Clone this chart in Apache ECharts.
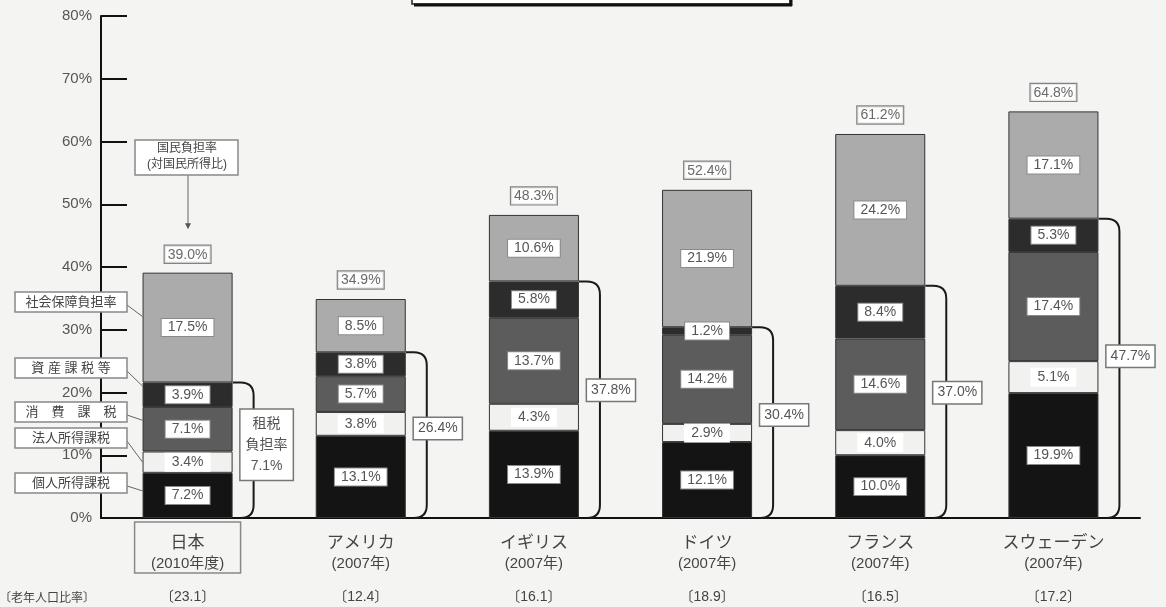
<!DOCTYPE html>
<html><head><meta charset="utf-8">
<script src="https://cdn.jsdelivr.net/npm/echarts@6/dist/echarts.min.js"></script>
<style>html,body{margin:0;padding:0;background:#f4f4f2}#c{width:1166px;height:607px}</style>
</head><body><div id="c"></div>
<script>
const countries = ['日本','アメリカ','イギリス','ドイツ','フランス','スウェーデン'];
const years = ['2010年度','2007年','2007年','2007年','2007年','2007年'];
const elderlyRatio = ['23.1','12.4','16.1','18.9','16.5','17.2'];
const personalIncomeTax = [7.2,13.1,13.9,12.1,10.0,19.9];
const corporateIncomeTax = [3.4,3.8,4.3,2.9,4.0,5.1];
const consumptionTax = [7.1,5.7,13.7,14.2,14.6,17.4];
const assetTax = [3.9,3.8,5.8,1.2,8.4,5.3];
const socialSecurity = [17.5,8.5,10.6,21.9,24.2,17.1];
const nationalBurden = [39.0,34.9,48.3,52.4,61.2,64.8];
const taxBurden = [7.1,26.4,37.8,30.4,37.0,47.7];
const seriesNames = ['個人所得課税','法人所得課税','消費課税','資産課税等','社会保障負担率'];

const FONT = "'Liberation Sans','Noto Sans CJK JP',sans-serif";
const taxSum = personalIncomeTax.map((v,i)=>+(v+corporateIncomeTax[i]+consumptionTax[i]+assetTax[i]).toFixed(1));

function segLabel(boxed){
  return {show:true, position:'inside', formatter:p=>p.value.toFixed(1)+'%',
    color:'#555', fontSize:14, fontFamily:FONT, backgroundColor:'#fff',
    borderColor: boxed?'#8a8a8a':'#fff', borderWidth:1, padding:[2,6,1,6]};
}
function bar(name, data, color, boxed){
  return {type:'bar', name, data, stack:'t', barWidth:'52%',
    itemStyle:{color, borderColor:'#333', borderWidth:1}, label:segLabel(boxed), z:2};
}

const option = {
  backgroundColor:'#f4f4f2',
  animation:false,
  grid:{left:101, right:26, top:16, bottom:89, containLabel:false},
  xAxis:[
    {type:'category', data:countries,
     axisLine:{lineStyle:{color:'#111', width:2}},
     axisTick:{inside:true, length:12, lineStyle:{color:'#111', width:2}},
     axisLabel:{margin:14, formatter:(v,i)=>`{n|${v}}\n{y|(${years[i]})}`,
       rich:{n:{fontSize:17, lineHeight:22, color:'#444', fontFamily:FONT},
             y:{fontSize:15, lineHeight:20, color:'#444', fontFamily:FONT}}}},
    {type:'category', data:elderlyRatio.map(v=>'〔'+v+'〕'), position:'bottom',
     axisLine:{show:false}, axisTick:{show:false},
     axisLabel:{margin:72, fontSize:14, color:'#444', fontFamily:FONT}}
  ],
  yAxis:{type:'value', min:0, max:80, interval:10,
    axisLine:{show:true, lineStyle:{color:'#111', width:2}},
    axisTick:{show:true, inside:true, length:26, lineStyle:{color:'#111', width:2}},
    splitLine:{show:false},
    axisLabel:{formatter:'{value}%', fontSize:15, color:'#555', margin:9, fontFamily:FONT}},
  series:[
    bar(seriesNames[0], personalIncomeTax, '#141414', true),
    bar(seriesNames[1], corporateIncomeTax, '#f1f1f0', false),
    bar(seriesNames[2], consumptionTax, '#5c5c5c', true),
    bar(seriesNames[3], assetTax, '#2c2c2c', true),
    bar(seriesNames[4], socialSecurity, '#ababab', true),
    {type:'scatter', data:nationalBurden.map((v,i)=>[i,v]), symbolSize:1,
     itemStyle:{color:'rgba(0,0,0,0)'}, z:5,
     label:{show:true, position:'top', distance:10, formatter:p=>p.value[1].toFixed(1)+'%',
       color:'#444', fontSize:14, fontFamily:FONT, backgroundColor:'#fff',
       borderColor:'#666', borderWidth:1.2, padding:[2,3,1,3]}},
    {type:'custom', data:taxBurden.map((r,i)=>[i, taxSum[i], r]), z:6,
     renderItem:(params, api)=>{
       const i=api.value(0), s=api.value(1), r=api.value(2);
       const top=api.coord([i,s]), bot=api.coord([i,0]);
       const cw=api.size([1,0])[0];
       const right=top[0]+cw*0.26;
       const lx=right+21, rr=13;
       const pd=`M${right} ${top[1]} L${lx-rr} ${top[1]} Q${lx} ${top[1]} ${lx} ${top[1]+rr} L${lx} ${bot[1]-rr} Q${lx} ${bot[1]} ${lx-rr} ${bot[1]}`;
       const ly=api.coord([i, s*0.54])[1];
       const txt = i===0 ? '租税\n負担率\n'+r.toFixed(1)+'%' : r.toFixed(1)+'%';
       return {type:'group', children:[
         {type:'path', shape:{pathData:pd}, style:{fill:null, stroke:'#1a1a1a', lineWidth:2}},
         {type:'text', x: lx+(i===0?13:11), y: ly, style:{text:txt, align:'center', verticalAlign:'middle',
           fill:'#555', font:'14px '+FONT, lineHeight: i===0?21:16, backgroundColor:'#fff',
           borderColor:'#777', borderWidth:1.5, padding: i===0?[4,5,3,5]:[3,4,2,4]}}
       ]};
     }}
  ]
};

const chart = echarts.init(document.getElementById('c'));
chart.setOption(option);

// annotation graphics for Japan
const p0 = chart.convertToPixel({xAxisIndex:0, yAxisIndex:0}, [0,0]);
const p1 = chart.convertToPixel({xAxisIndex:0, yAxisIndex:0}, [1,0]);
const cw = p1[0]-p0[0];
const barLeft = p0[0]-cw*0.26;
const segs = [personalIncomeTax, corporateIncomeTax, consumptionTax, assetTax, socialSecurity];
const fracs = [0.6, 0.5, 0.7, 0.85, 0.6];
const annText = ['個人所得課税','法人所得課税','消　費　課　税','資 産 課 税 等','社会保障負担率'];
const annY = [483, 438, 412, 368, 302];
const g = [];
let base = 0;
segs.forEach((arr, k)=>{
  const yv = base + arr[0]*fracs[k];
  base += arr[0];
  const py = chart.convertToPixel({yAxisIndex:0}, yv);
  g.push({type:'line', shape:{x1:127, y1:annY[k]+3, x2:barLeft, y2:py}, style:{stroke:'#666', lineWidth:1}, z:10});
  g.push({type:'rect', shape:{x:15, y:annY[k]-10, width:112, height:20}, style:{fill:'#fff', stroke:'#888', lineWidth:1.5}, z:11});
  g.push({type:'text', x:71, y:annY[k], style:{text:annText[k], align:'center', verticalAlign:'middle', fill:'#444', font:'13px '+FONT}, z:12});
});
// 国民負担率 box & arrow
const topJ = chart.convertToPixel({yAxisIndex:0}, nationalBurden[0]);
g.push({type:'rect', shape:{x:135, y:140, width:103, height:35}, style:{fill:'#fff', stroke:'#888', lineWidth:1.5}, z:11});
g.push({type:'text', x:187, y:157, style:{text:'国民負担率\n(対国民所得比)', align:'center', verticalAlign:'middle', fill:'#444', font:'12px '+FONT, lineHeight:16}, z:12});
g.push({type:'line', shape:{x1:188, y1:175, x2:188, y2:topJ-46}, style:{stroke:'#666', lineWidth:1}, z:10});
g.push({type:'polygon', shape:{points:[[185,topJ-50],[191,topJ-50],[188,topJ-44]]}, style:{fill:'#555'}, z:10});
// Japan category box
g.push({type:'rect', shape:{x:p0[0]-53, y:522, width:106, height:51}, style:{fill:null, stroke:'#888', lineWidth:1.5}, z:10});
// elderly ratio heading
g.push({type:'text', x:95, y:599, style:{text:'〔老年人口比率〕', align:'right', verticalAlign:'middle', fill:'#444', font:'12px '+FONT}, z:10});
// title box (cut off at top)
g.push({type:'rect', shape:{x:412, y:-20, width:378, height:24}, style:{fill:'#fff', stroke:'#222', lineWidth:1.5}, z:10});
g.push({type:'line', shape:{x1:414, y1:5, x2:792, y2:5}, style:{stroke:'#111', lineWidth:3}, z:10});
g.push({type:'line', shape:{x1:791, y1:-2, x2:791, y2:6}, style:{stroke:'#111', lineWidth:3}, z:10});
chart.setOption({graphic:g});
</script>
</body></html>
